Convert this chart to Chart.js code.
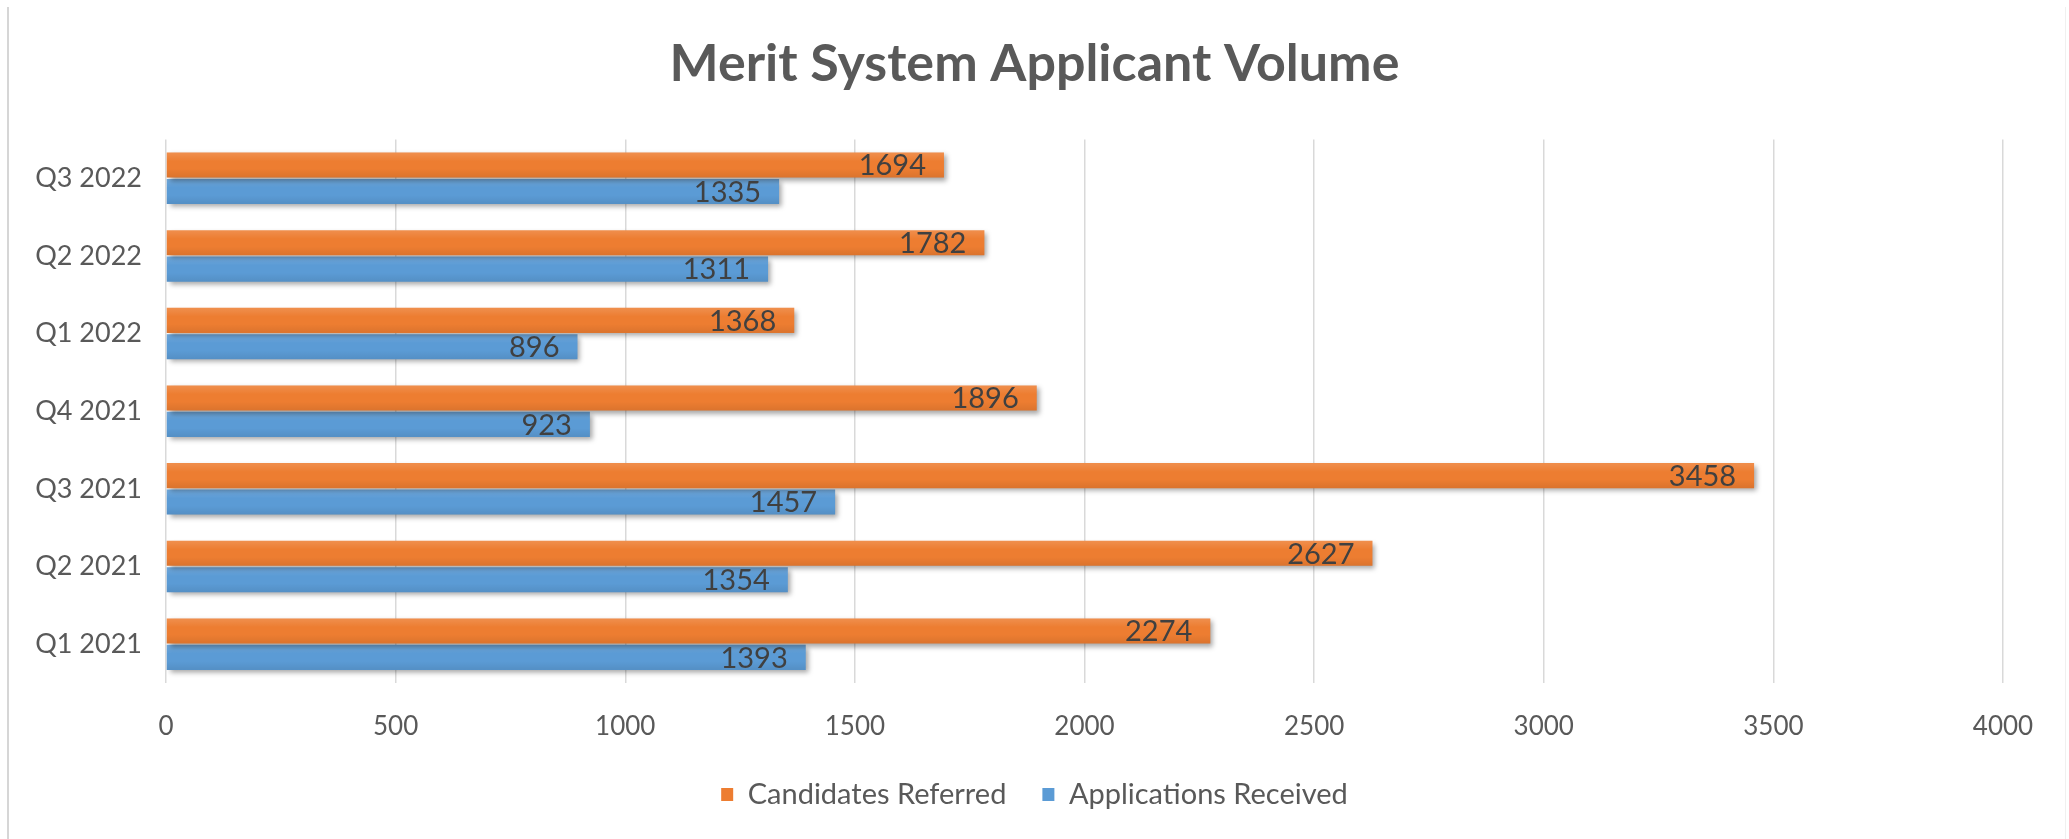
<!DOCTYPE html>
<html>
<head>
<meta charset="utf-8">
<script src="https://cdn.jsdelivr.net/npm/chart.js@4.4.1/dist/chart.umd.min.js"></script>
<style>
    html, body { margin: 0; padding: 0; background: #ffffff; }
    #wrap { position: relative; width: 2069px; height: 839px; }
    /* light frame around the chart, like the exported picture */
    #frame { position: absolute; left: 7px; top: 7px; width: 2056px; height: 840px;
             border-left: 2px solid #d6d6d6; border-right: 1px solid #f0f0f0; pointer-events: none; }
</style>
</head>
<body>
<div id="wrap">
    <canvas id="chart" width="2069" height="839"></canvas>
    <div id="frame"></div>
</div>
<script>
// カテゴリ（上から下の順）
const quarters = ['Q3 2022', 'Q2 2022', 'Q1 2022', 'Q4 2021', 'Q3 2021', 'Q2 2021', 'Q1 2021'];

// 系列の値
const candidatesReferred = [1694, 1782, 1368, 1896, 3458, 2627, 2274];
const applicationsReceived = [1335, 1311, 896, 923, 1457, 1354, 1393];

// X軸の目盛り
const xTicks = [0, 500, 1000, 1500, 2000, 2500, 3000, 3500, 4000];

const FONT = 'Lato, "Open Sans", sans-serif';
const GRAY = '#595959';

// バーの影と立体感（Excel風）
const shadowPlugin = {
    id: 'barShadow',
    beforeDatasetDraw(chart) {
        const ctx = chart.ctx;
        ctx.save();
        ctx.shadowColor = 'rgba(0,0,0,0.35)';
        ctx.shadowBlur = 5;
        ctx.shadowOffsetX = 3;
        ctx.shadowOffsetY = 3;
    },
    afterDatasetDraw(chart, args) {
        const ctx = chart.ctx;
        ctx.restore();
        // 上を少し明るく、下を少し暗くする
        ctx.save();
        args.meta.data.forEach(bar => {
            const { x, y, base, height } = bar.getProps(['x', 'y', 'base', 'height'], true);
            const top = y - height / 2;
            const g = ctx.createLinearGradient(0, top, 0, top + height);
            g.addColorStop(0, 'rgba(255,255,255,0.14)');
            g.addColorStop(0.35, 'rgba(255,255,255,0)');
            g.addColorStop(0.65, 'rgba(0,0,0,0)');
            g.addColorStop(1, 'rgba(0,0,0,0.08)');
            ctx.fillStyle = g;
            ctx.fillRect(Math.min(base, x), top, Math.abs(x - base), height);
        });
        ctx.restore();
    }
};

// 値ラベル（バーの内側の端）
const valueLabelPlugin = {
    id: 'valueLabels',
    afterDatasetsDraw(chart) {
        const ctx = chart.ctx;
        ctx.save();
        ctx.font = '29px ' + FONT;
        ctx.fillStyle = '#404040';
        ctx.textAlign = 'right';
        ctx.textBaseline = 'middle';
        chart.data.datasets.forEach((ds, i) => {
            const meta = chart.getDatasetMeta(i);
            meta.data.forEach((bar, j) => {
                ctx.fillText(String(ds.data[j]), bar.x - 18, bar.y + 1);
            });
        });
        ctx.restore();
    }
};

new Chart(document.getElementById('chart'), {
    type: 'bar',
    data: {
        labels: quarters,
        datasets: [
            {
                label: 'Candidates Referred',
                data: candidatesReferred,
                backgroundColor: '#ED7D31',
                categoryPercentage: 0.68,
                barPercentage: 0.95
            },
            {
                label: 'Applications Received',
                data: applicationsReceived,
                backgroundColor: '#5B9BD5',
                categoryPercentage: 0.68,
                barPercentage: 0.95
            }
        ]
    },
    options: {
        indexAxis: 'y',
        responsive: false,
        animation: false,
        devicePixelRatio: 1,
        layout: { padding: { left: 0, right: 0, top: 0, bottom: 20 } },
        scales: {
            x: {
                min: xTicks[0],
                max: xTicks[xTicks.length - 1],
                afterBuildTicks: (scale) => { scale.ticks = xTicks.map(v => ({ value: v })); },
                ticks: {
                    color: GRAY,
                    font: { family: FONT, size: 26 },
                    padding: 28,
                    callback: (v) => String(v)
                },
                grid: { color: '#d9d9d9', lineWidth: 1.5, drawTicks: false },
                border: { display: false },
                afterFit: (scale) => {
                    scale.height = 61;
                    scale.paddingRight = 66; // プロット右端を4000の位置に
                }
            },
            y: {
                grid: { display: false, drawTicks: false },
                border: { display: false },
                ticks: { color: GRAY, font: { family: FONT, size: 27 }, padding: 24 },
                afterFit: (scale) => { scale.width = 166; }
            }
        },
        plugins: {
            title: {
                display: true,
                text: 'Merit System Applicant Volume',
                color: GRAY,
                font: { family: FONT, size: 52, weight: 'bold' },
                padding: { top: 33, bottom: 44 }
            },
            legend: {
                position: 'bottom',
                labels: {
                    color: GRAY,
                    font: { family: FONT, size: 29 },
                    boxWidth: 12,
                    boxHeight: 13,
                    padding: 36
                }
            },
            tooltip: { enabled: false }
        }
    },
    plugins: [shadowPlugin, valueLabelPlugin]
});
</script>
</body>
</html>
